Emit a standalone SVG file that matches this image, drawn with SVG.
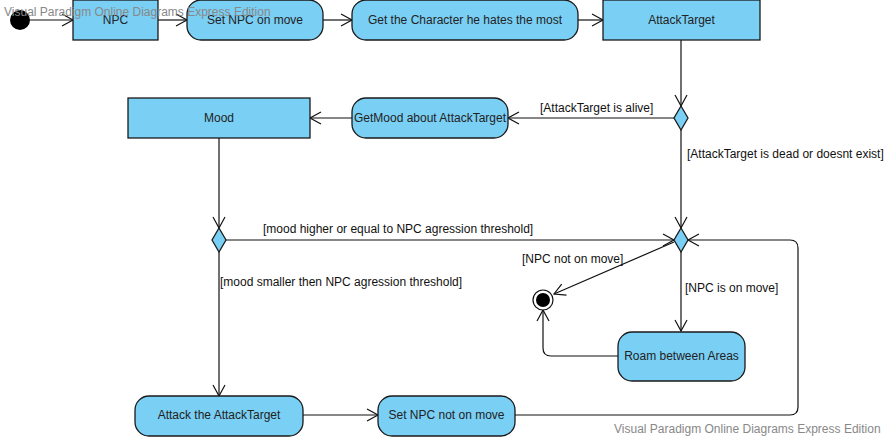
<svg xmlns="http://www.w3.org/2000/svg" width="886" height="439" viewBox="0 0 886 439">
<style>
.n{fill:#7acff5;stroke:#1a1a1a;stroke-width:1.3}
.t{font-family:"Liberation Sans",Arial,sans-serif;font-size:12px;fill:#222;text-anchor:middle;dominant-baseline:central}
.l{font-family:"Liberation Sans",Arial,sans-serif;font-size:12px;fill:#111}
.w{font-family:"Liberation Sans",Arial,sans-serif;font-size:12px;fill:#888}
.c{fill:none;stroke:#111;stroke-width:1.2;marker-end:url(#a)}
</style>
<defs>
<marker id="a" markerUnits="userSpaceOnUse" markerWidth="14" markerHeight="14" refX="12" refY="7" orient="auto">
<path d="M1,1 L12,7 L1,13" fill="none" stroke="#111" stroke-width="1.2"/>
</marker>
</defs>
<rect width="886" height="439" fill="#fff"/>
<g id="connectors">
<path class="c" d="M30,20 H73"/>
<path class="c" d="M158,20 H187"/>
<path class="c" d="M323,20 H352"/>
<path class="c" d="M578,20 H603"/>
<path class="c" d="M681,40 V106"/>
<path class="c" d="M674,118 H508"/>
<path class="c" d="M352,118 H310"/>
<path class="c" d="M219,138 V228"/>
<path class="c" d="M681,130 V228"/>
<path class="c" d="M226,240 H674"/>
<path class="c" d="M219,252 V396"/>
<path class="c" d="M303,415 H378"/>
<path class="c" d="M515,415 H790 Q798,415 798,407 V248 Q798,240 790,240 H688"/>
<path class="c" d="M681,252 V331"/>
<path class="c" d="M674,242 L554,294"/>
<path class="c" d="M618,356 H551 Q543,356 543,348 V310"/>
</g>
<g id="start"><circle cx="20" cy="20" r="10" fill="#000"/></g>
<g id="npc"><rect class="n" x="73" y="0" width="85" height="40"/><text class="t" x="115.5" y="20">NPC</text></g>
<g id="setMove"><rect class="n" x="187" y="0" width="136" height="40" rx="14"/><text class="t" x="255" y="20">Set NPC on move</text></g>
<g id="getChar"><rect class="n" x="352" y="0" width="226" height="40" rx="14"/><text class="t" x="465" y="20">Get the Character he hates the most</text></g>
<g id="attackTarget"><rect class="n" x="603" y="0" width="157" height="40"/><text class="t" x="681.5" y="20">AttackTarget</text></g>
<g id="dec1"><path class="n" d="M681,106 L688,118 L681,130 L674,118 Z"/></g>
<g id="getMood"><rect class="n" x="352" y="98" width="156" height="40" rx="14"/><text class="t" x="430" y="118">GetMood about AttackTarget</text></g>
<g id="mood"><rect class="n" x="128" y="98" width="182" height="40"/><text class="t" x="219" y="118">Mood</text></g>
<g id="dec2"><path class="n" d="M219,228 L226,240 L219,252 L212,240 Z"/></g>
<g id="dec3"><path class="n" d="M681,228 L688,240 L681,252 L674,240 Z"/></g>
<g id="attack"><rect class="n" x="135" y="396" width="168" height="40" rx="14"/><text class="t" x="219" y="415">Attack the AttackTarget</text></g>
<g id="setNotMove"><rect class="n" x="378" y="396" width="137" height="40" rx="14"/><text class="t" x="446.5" y="415">Set NPC not on move</text></g>
<g id="roam"><rect class="n" x="618" y="332" width="127" height="49" rx="14"/><text class="t" x="681.5" y="356">Roam between Areas</text></g>
<g id="final"><circle cx="543" cy="300" r="10" fill="#fff" stroke="#111" stroke-width="1.2"/><circle cx="543" cy="300" r="7" fill="#000"/></g>
<g id="labels">
<text class="l" x="540" y="112">[AttackTarget is alive]</text>
<text class="l" x="687" y="158">[AttackTarget is dead or doesnt exist]</text>
<text class="l" x="263" y="233">[mood higher or equal to NPC agression threshold]</text>
<text class="l" x="220" y="286">[mood smaller then NPC agression threshold]</text>
<text class="l" x="522" y="263" fill="#333">[NPC not on move]</text>
<text class="l" x="685" y="292">[NPC is on move]</text>
</g>
<text class="w" x="4" y="16">Visual Paradigm Online Diagrams Express Edition</text>
<text class="w" x="614" y="433">Visual Paradigm Online Diagrams Express Edition</text>
</svg>
